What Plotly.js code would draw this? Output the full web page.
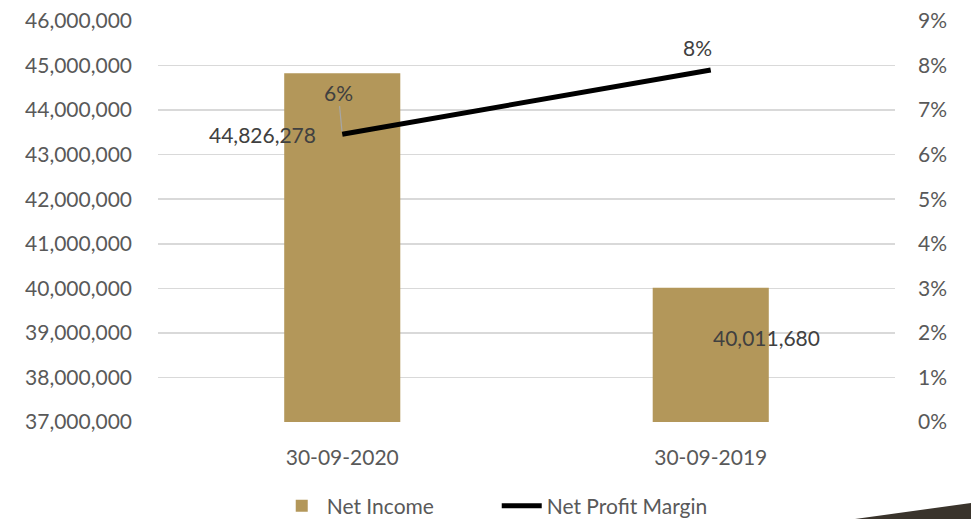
<!DOCTYPE html>
<html>
<head>
<meta charset="utf-8">
<script src="https://cdn.plot.ly/plotly-3.0.1.min.js"></script>
<style>html,body{margin:0;padding:0;background:#fff;}#chart{width:971px;height:519px;}</style>
</head>
<body>
<div id="chart"></div>
<script>
const categories = ["30-09-2020", "30-09-2019"];
const netIncome = [44826278, 40011680];
const netProfitMargin = [0.0646, 0.079];
const incomeTicks = [37000000, 38000000, 39000000, 40000000, 41000000, 42000000, 43000000, 44000000, 45000000, 46000000];
const marginTicks = [0, 0.01, 0.02, 0.03, 0.04, 0.05, 0.06, 0.07, 0.08, 0.09];

const fontFam = "Lato, 'Open Sans', sans-serif";
const txtCol = "#595959";
const fs = 21;
const fmtNum = v => v.toLocaleString("en-US");
const fmtPct = v => Math.round(v * 100) + "%";

const traces = [
  {
    type: "bar", name: "Net Income", x: categories, y: netIncome,
    marker: {color: "#B3975A"}, width: 0.315, yaxis: "y",
    hoverinfo: "skip"
  },
  {
    type: "scatter", mode: "lines", name: "Net Profit Margin", x: categories, y: netProfitMargin,
    line: {color: "#000000", width: 5}, yaxis: "y2", hoverinfo: "skip"
  }
];

const annotations = [
  {x: categories[0], y: netProfitMargin[0], xref: "x", yref: "y2", text: fmtNum(netIncome[0]),
   showarrow: false, xanchor: "center", yanchor: "middle", xshift: -80, yshift: 0,
   font: {family: fontFam, size: fs, color: "#404040"}},
  {x: categories[1], y: netIncome[1], xref: "x", yref: "y", text: fmtNum(netIncome[1]),
   showarrow: false, xanchor: "center", yanchor: "middle", xshift: 56, yshift: -50,
   font: {family: fontFam, size: fs, color: "#404040"}},
  {x: categories[0], y: netProfitMargin[0], xref: "x", yref: "y2", text: fmtPct(netProfitMargin[0]),
   showarrow: true, arrowhead: 0, arrowwidth: 1.2, arrowcolor: "#A6A6A6", ax: -4, ay: -42, standoff: 3,
   font: {family: fontFam, size: fs, color: "#404040"}},
  {x: categories[1], y: netProfitMargin[1], xref: "x", yref: "y2", text: fmtPct(netProfitMargin[1]),
   showarrow: false, xanchor: "center", yanchor: "bottom", xshift: -13, yshift: 8,
   font: {family: fontFam, size: fs, color: "#404040"}}
];

const layout = {
  width: 971, height: 519,
  margin: {l: 158, r: 76, t: 21, b: 97, autoexpand: false},
  paper_bgcolor: "#ffffff", plot_bgcolor: "#ffffff",
  font: {family: fontFam, size: fs, color: txtCol},
  showlegend: true,
  legend: {orientation: "h", xref: "container", yref: "container", x: 0.285, xanchor: "left",
           y: 0.025, yanchor: "middle", entrywidth: 165, entrywidthmode: "pixels",
           font: {family: fontFam, size: fs, color: txtCol}, traceorder: "normal", itemwidth: 40},
  xaxis: {type: "category", showgrid: false, zeroline: false, showline: false, ticks: "",
          ticklabelstandoff: 21,
          tickfont: {family: fontFam, size: fs, color: txtCol}},
  yaxis: {range: [37000000, 46000000], tickvals: incomeTicks, ticktext: incomeTicks.map(fmtNum),
          showgrid: true, gridcolor: "#D9D9D9", gridwidth: 1.5, zeroline: false, showline: false,
          ticks: "", ticklabelstandoff: 25, tickfont: {family: fontFam, size: fs, color: txtCol}},
  yaxis2: {range: [0, 0.09], tickvals: marginTicks, ticktext: marginTicks.map(fmtPct),
           overlaying: "y", side: "right", showgrid: false, zeroline: false, showline: false,
           ticks: "", ticklabelstandoff: 22, tickfont: {family: fontFam, size: fs, color: txtCol}},
  annotations: annotations,
  shapes: [
    {type: "path", xref: "paper", yref: "paper", layer: "above",
     path: "", line: {width: 0}}
  ]
};
// decorative wedge bottom-right, in pixel-based paper coordinates
(function(){
  const pw = 971 - 158 - 76, ph = 519 - 21 - 97;
  const px = x => (x - 158) / pw, py = y => (519 - 97 - y) / ph;
  layout.shapes[0].path = `M ${px(855)} ${py(519)} L ${px(971)} ${py(503)} L ${px(971)} ${py(519)} Z`;
  layout.shapes[0].fillcolor = "#3A342C";
})();

Plotly.newPlot("chart", traces, layout, {staticPlot: true, displayModeBar: false});
</script>
</body>
</html>
